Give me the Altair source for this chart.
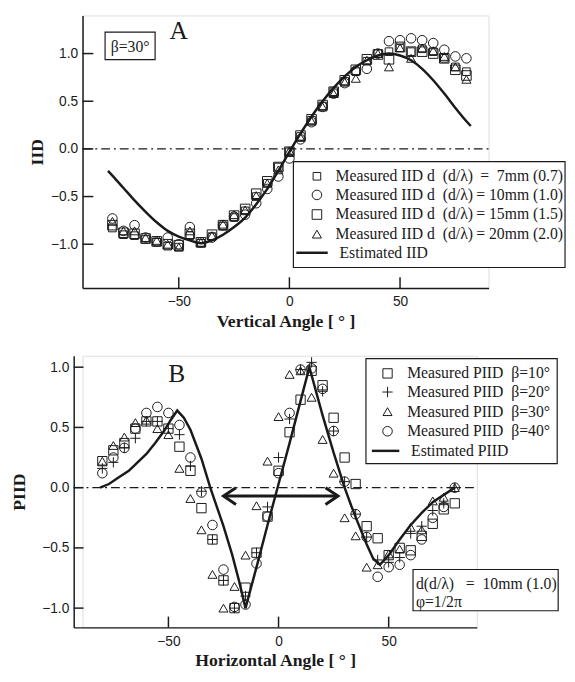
import altair as alt
import pandas as pd

# ---------------- data ----------------
angles = list(range(-80, 81, 5))

# Panel A : IID vs vertical angle (beta = 30 deg)
iid_7mm = [-0.83, -0.90, -0.91, -0.95, -0.98, -1.02, -1.03, -0.91, -0.99, -0.92, -0.81,
           -0.72, -0.65, -0.50, -0.36, -0.19, -0.03, 0.13, 0.30, 0.45, 0.60, 0.71,
           0.81, 0.92, 1.00, 1.02, 1.06, 1.02, 1.05, 1.02, 0.95, 0.86, 0.81]
iid_10mm = [-0.73, -0.86, -0.80, -0.93, -0.97, -0.93, -1.00, -0.82, -0.98, -0.93, -0.80,
            -0.71, -0.69, -0.57, -0.42, -0.29, -0.10, 0.10, 0.28, 0.44, 0.58, 0.69,
            0.82, 0.84, 1.00, 1.13, 1.14, 1.16, 1.14, 1.11, 1.04, 0.97, 0.95]
iid_15mm = [-0.80, -0.88, -0.89, -0.94, -0.97, -1.00, -1.01, -0.89, -0.98, -0.90, -0.80,
            -0.70, -0.63, -0.47, -0.34, -0.19, -0.03, 0.14, 0.31, 0.46, 0.60, 0.72,
            0.83, 0.94, 0.99, 0.94, 1.07, 1.02, 1.02, 1.00, 0.95, 0.83, 0.77]
iid_20mm = [-0.76, -0.86, -0.86, -0.93, -0.96, -1.00, -1.03, -0.86, -0.98, -0.91, -0.79,
            -0.69, -0.64, -0.49, -0.36, -0.22, -0.02, 0.12, 0.29, 0.44, 0.58, 0.70,
            0.74, 0.93, 1.00, 0.86, 1.06, 0.95, 1.06, 1.03, 0.97, 0.86, 0.73]
est_iid_angle = [-82, -80, -75, -70, -65, -60, -55, -50, -45, -40, -35, -30, -25, -20,
                 -15, -10, -5, 0, 5, 10, 15, 20, 25, 30, 35, 40, 45, 50, 55, 60, 65,
                 70, 75, 80, 82]
est_iid = [-0.23, -0.28, -0.41, -0.54, -0.66, -0.77, -0.86, -0.92, -0.96, -0.99, -0.96,
           -0.90, -0.82, -0.72, -0.58, -0.42, -0.23, -0.03, 0.16, 0.34, 0.50, 0.64,
           0.76, 0.86, 0.93, 0.98, 1.00, 0.98, 0.93, 0.84, 0.72, 0.58, 0.43, 0.29, 0.24]
legend_a = ["Measured IID d\u00a0 (d/\u03bb)", "Measured IID d\u00a0 (d/\u03bb)",
            "Measured IID d\u00a0 (d/\u03bb)", "Measured IID d\u00a0 (d/\u03bb)"]
legend_a_val = ["=\u00a0 7mm (0.7)", "= 10mm (1.0)", "= 15mm (1.5)", "= 20mm (2.0)"]

# Panel B : PIID vs horizontal angle (d = 10 mm)
piid_b10 = [0.22, 0.31, 0.37, 0.49, 0.55, 0.55, 0.49, 0.34, 0.14, -0.17, -0.43, -0.77,
            -1.00, -0.83, -0.54, -0.24, 0.14, 0.46, 0.73, 0.97, 0.85, 0.58, 0.25, 0.03,
            -0.32, -0.42, -0.56, -0.50, -0.52, -0.40, -0.30, -0.18, -0.13]
piid_b20 = [0.16, 0.21, 0.33, 0.41, 0.55, 0.55, 0.49, 0.44, 0.18, -0.03, -0.43, -0.77,
            -1.00, -0.90, -0.54, -0.16, 0.25, 0.57, 0.98, 1.04, 0.80, 0.47, 0.05, -0.22,
            -0.41, -0.60, -0.62, -0.58, -0.38, -0.32, -0.19, -0.13, 0.00]
piid_b30 = [0.22, 0.35, 0.42, 0.54, 0.56, 0.49, 0.44, 0.16, -0.09, -0.35, -0.72, -1.00,
            -0.82, -0.56, -0.15, 0.22, 0.59, 0.94, 0.97, 0.75, 0.40, 0.12, -0.25, -0.40,
            -0.66, -0.64, -0.55, -0.51, -0.33, -0.35, -0.11, -0.08, 0.00]
piid_b40 = [0.12, 0.25, 0.33, 0.49, 0.62, 0.67, 0.62, 0.52, 0.25, -0.04, -0.31, -0.68,
            -0.99, -0.97, -0.63, -0.24, 0.12, 0.62, 0.98, 0.99, 0.82, 0.47, 0.05, -0.22,
            -0.41, -0.74, -0.66, -0.64, -0.56, -0.43, -0.25, -0.16, 0.00]
est_piid_angle = [-81, -77, -73, -68, -64, -60, -56, -52, -49, -46, -43, -40, -35, -31,
                  -25, -21, -18, -15, -10, -5, 0, 5, 10, 14, 20, 25, 30, 33, 36, 40, 43,
                  46, 50, 55, 60, 65, 70, 75, 80]
est_piid = [0.00, 0.03, 0.08, 0.14, 0.21, 0.28, 0.37, 0.47, 0.56, 0.64, 0.58, 0.48, 0.24,
            0.00, -0.32, -0.56, -0.77, -1.00, -0.66, -0.31, 0.03, 0.37, 0.72, 1.00, 0.60,
            0.29, 0.00, -0.15, -0.29, -0.47, -0.59, -0.64, -0.56, -0.43, -0.31, -0.21,
            -0.12, -0.06, 0.00]
legend_b = ["Measured PIID\u00a0 \u03b2=10\u00b0", "Measured PIID\u00a0 \u03b2=20\u00b0",
            "Measured PIID\u00a0 \u03b2=30\u00b0", "Measured PIID\u00a0 \u03b2=40\u00b0"]
arrow_angle = [-25, 27]
arrow_level = [-0.07]

zero_level = [0.0]
x_ticks = [-50, 0, 50]
y_ticks = [-1.0, -0.5, 0.0, 0.5, 1.0]

# ---------------- styling ----------------
SERIF = "Liberation Serif"
SANS = "Liberation Sans"
INK = "#1a1a1a"
PLUS = "M-1,0L1,0M0,-1L0,1"
one = pd.DataFrame({"k": [0]})


def axis(values, fmt, title, label_pad, title_pad, offset=0):
    return alt.Axis(values=values, format=fmt, ticks=False, tickSize=0, grid=False,
                    domainColor=INK, domainWidth=1.5, offset=offset,
                    labelFont=SANS, labelFontSize=14, labelColor=INK, labelPadding=label_pad,
                    title=title, titleFont=SERIF, titleFontSize=18, titleFontWeight="bold",
                    titleColor=INK, titlePadding=title_pad)


def text(t, x, y, size=16, align="left", baseline="middle"):
    return alt.Chart(one).mark_text(text=t, font=SERIF, fontSize=size, color=INK,
                                    align=align, baseline=baseline).encode(
        x=alt.value(x), y=alt.value(y))


def box(x1, x2, y1, y2):
    return alt.Chart(one).mark_rect(fill="white", stroke=INK, strokeWidth=1.2).encode(
        x=alt.value(x1), x2=alt.value(x2), y=alt.value(y1), y2=alt.value(y2))


def sym(shape, size, x, y):
    return alt.Chart(one).mark_point(shape=shape, size=size, filled=False, color=INK,
                                     strokeWidth=1, opacity=1).encode(
        x=alt.value(x), y=alt.value(y))


def seg(x1, x2, y):
    return alt.Chart(one).mark_rule(color=INK, strokeWidth=2.5).encode(
        x=alt.value(x1), x2=alt.value(x2), y=alt.value(y))


# ---------------- panel A ----------------
WA, HA = 414, 278
xsA = alt.Scale(domain=[-93.5, 90], nice=False, zero=False)
ysA = alt.Scale(domain=[-1.46, 1.40], nice=False, zero=False)
axXA = axis(x_ticks, "d", "Vertical Angle [ \u00b0 ]", 7, 4)
axYA = axis(y_ticks, ".1f", "IID", 5, 4)
XA = lambda f="x": alt.X(f"{f}:Q", scale=xsA, axis=axXA)
YA = lambda f="y": alt.Y(f"{f}:Q", scale=ysA, axis=axYA)

shapesA = ["square", "circle", "square", "triangle-up"]
sizesA = [60, 95, 95, 85]
layersA = []
layersA.append(alt.Chart(pd.DataFrame({"y": zero_level})).mark_rule(
    color=INK, strokeWidth=1.2, strokeDash=[9, 4, 2, 4]).encode(
    y=YA(), x=alt.value(0), x2=alt.value(WA)))
for vals, shp, sz in zip([iid_7mm, iid_10mm, iid_15mm, iid_20mm], shapesA, sizesA):
    layersA.append(alt.Chart(pd.DataFrame({"x": angles, "y": vals})).mark_point(
        shape=shp, size=sz, filled=False, color=INK, strokeWidth=1, opacity=1).encode(
        x=XA(), y=YA()))
layersA.append(alt.Chart(pd.DataFrame({"x": est_iid_angle, "y": est_iid})).mark_line(
    color=INK, strokeWidth=2.5, interpolate="monotone").encode(x=XA(), y=YA()))
layersA.append(alt.Chart(pd.DataFrame({"y": y_ticks})).mark_rule(
    color=INK, strokeWidth=1.5).encode(y=YA(), x=alt.value(0), x2=alt.value(11)))
layersA.append(alt.Chart(pd.DataFrame({"x": x_ticks})).mark_rule(
    color=INK, strokeWidth=1.5).encode(x=XA(), y=alt.value(HA), y2=alt.value(HA - 11)))
# labels
layersA.append(text("A", 98, 24, size=26, align="center", baseline="alphabetic"))
layersA.append(box(23, 74, 17, 45))
layersA.append(text("\u03b2=30\u00b0", 48.5, 37, size=16, align="center", baseline="alphabetic"))
# legend A
rowsA = [164, 183, 203, 223, 242]
layersA.append(box(215, 492, 149, 257))
for i in range(4):
    layersA.append(sym(shapesA[i], sizesA[i], 239, rowsA[i]))
    layersA.append(text(legend_a[i], 258, rowsA[i]))
    layersA.append(text(legend_a_val[i], 490, rowsA[i], align="right"))
layersA.append(seg(218, 250, rowsA[4]))
layersA.append(text("Estimated IID", 262, rowsA[4]))

panelA = alt.layer(*layersA).properties(width=WA, height=HA)

# ---------------- panel B ----------------
SH = 9  # panel B plot starts 9 px left of panel A plot
WB, HB = 402, 277
xsB = alt.Scale(domain=[-93, 90], range=[-SH, WB], nice=False, zero=False)
ysB = alt.Scale(domain=[-1.16, 1.095], nice=False, zero=False)
axXB = axis(x_ticks, "d", "Horizontal Angle [ \u00b0 ]", 7, 4)
axYB = axis(y_ticks, ".1f", "PIID", 5, 14, offset=SH)
XB = lambda f="x": alt.X(f"{f}:Q", scale=xsB, axis=axXB)
YB = lambda f="y": alt.Y(f"{f}:Q", scale=ysB, axis=axYB)

shapesB = ["square", PLUS, "triangle-up", "circle"]
sizesB = [90, 110, 85, 95]
layersB = []
layersB.append(alt.Chart(pd.DataFrame({"y": zero_level})).mark_rule(
    color=INK, strokeWidth=1.2, strokeDash=[9, 4, 2, 4]).encode(
    y=YB(), x=alt.value(-SH), x2=alt.value(WB)))
for vals, shp, sz in zip([piid_b10, piid_b20, piid_b30, piid_b40], shapesB, sizesB):
    layersB.append(alt.Chart(pd.DataFrame({"x": angles, "y": vals})).mark_point(
        shape=shp, size=sz, filled=False, color=INK, strokeWidth=1, opacity=1).encode(
        x=XB(), y=YB()))
layersB.append(alt.Chart(pd.DataFrame({"x": est_piid_angle, "y": est_piid})).mark_line(
    color=INK, strokeWidth=2.5, interpolate="linear").encode(x=XB(), y=YB()))
# double arrow
layersB.append(alt.Chart(pd.DataFrame({"x": [arrow_angle[0]], "x2": [arrow_angle[1]],
                                       "y": arrow_level})).mark_rule(
    color=INK, strokeWidth=3).encode(x=XB(), x2=alt.X2("x2:Q"), y=YB()))
layersB.append(alt.Chart(pd.DataFrame({"x": [arrow_angle[0]], "y": arrow_level})).mark_point(
    shape="M1.5,-1L0,0L1.5,1", size=289, filled=False, color=INK, strokeWidth=3,
    opacity=1).encode(x=XB(), y=YB()))
layersB.append(alt.Chart(pd.DataFrame({"x": [arrow_angle[1]], "y": arrow_level})).mark_point(
    shape="M-1.5,-1L0,0L-1.5,1", size=289, filled=False, color=INK, strokeWidth=3,
    opacity=1).encode(x=XB(), y=YB()))
layersB.append(alt.Chart(pd.DataFrame({"y": y_ticks})).mark_rule(
    color=INK, strokeWidth=1.5).encode(y=YB(), x=alt.value(-SH), x2=alt.value(-SH + 10)))
layersB.append(alt.Chart(pd.DataFrame({"x": x_ticks})).mark_rule(
    color=INK, strokeWidth=1.5).encode(x=XB(), y=alt.value(HB), y2=alt.value(HB - 11)))
layersB.append(text("B", 96, 27, size=26, align="center", baseline="alphabetic"))
# legend B
rowsB = [18, 37, 57, 77, 97]
layersB.append(box(289, 484, 3, 110))
for i in range(4):
    layersB.append(sym(shapesB[i], sizesB[i], 311, rowsB[i]))
    layersB.append(text(legend_b[i], 331, rowsB[i]))
layersB.append(seg(295, 323, rowsB[4]))
layersB.append(text("Estimated PIID", 335, rowsB[4]))
# parameter box
layersB.append(box(337, 485, 218, 260))
layersB.append(text("d(d/\u03bb)\u00a0\u00a0 =\u00a0 10mm (1.0)", 340, 233))
layersB.append(text("\u03c6=1/2\u03c0", 340, 251))

panelB = alt.layer(*layersB).properties(width=WB, height=HB)

chart = alt.vconcat(panelA, panelB, spacing=69, bounds="flush").properties(
    padding={"left": 1, "top": 0, "right": 0, "bottom": 0}
).configure_view(stroke=None).configure(background="white")

chart.save("out.html", embed_options={"renderer": "svg", "actions": False})
